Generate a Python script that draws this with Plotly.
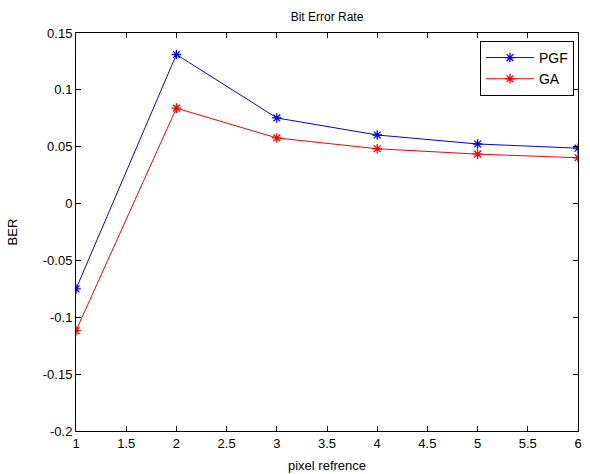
import plotly.graph_objects as go

# pixel reference positions
pixel_ref = [1, 2, 3, 4, 5, 6]

# bit error rate per method
ber_pgf = [-0.0751, 0.1311, 0.0753, 0.0603, 0.0524, 0.0487]
ber_ga = [-0.1118, 0.0839, 0.0577, 0.0482, 0.0435, 0.0403]

# axis ticks
x_ticks = [1, 1.5, 2, 2.5, 3, 3.5, 4, 4.5, 5, 5.5, 6]
x_tick_labels = ["1", "1.5", "2", "2.5", "3", "3.5", "4", "4.5", "5", "5.5", "6"]
y_ticks = [-0.2, -0.15, -0.1, -0.05, 0, 0.05, 0.1, 0.15]
y_tick_labels = ["-0.2", "-0.15", "-0.1", "-0.05", "0", "0.05", "0.1", "0.15"]

FONT = "Liberation Sans, Arial, sans-serif"

fig = go.Figure()
fig.add_trace(go.Scatter(
    x=pixel_ref, y=ber_pgf, name="PGF", mode="lines+markers",
    line=dict(color="#0000ff", width=1),
    marker=dict(symbol="asterisk-open", size=8, color="#0000ff",
                line=dict(color="#0000ff", width=1.3)),
))
fig.add_trace(go.Scatter(
    x=pixel_ref, y=ber_ga, name="GA", mode="lines+markers",
    line=dict(color="#ff0000", width=1),
    marker=dict(symbol="asterisk-open", size=8, color="#ff0000",
                line=dict(color="#ff0000", width=1.3)),
))

axis_common = dict(
    showgrid=False, zeroline=False, showline=True, linecolor="black",
    linewidth=1, mirror="ticks", ticks="inside", ticklen=5,
    tickcolor="black", tickfont=dict(family=FONT, size=13, color="black"),
    automargin=False,
)

fig.update_layout(
    width=590, height=474,
    margin=dict(l=76, r=12, t=33, b=43),
    paper_bgcolor="white", plot_bgcolor="white",
    title=dict(text="Bit Error Rate", x=0.5 * (76 + 578) / 590, xanchor="center",
               y=1 - 17 / 474, yanchor="middle",
               font=dict(family=FONT, size=12, color="black")),
    xaxis=dict(range=[1, 6], tickvals=x_ticks, ticktext=x_tick_labels,
               title=dict(text="pixel refrence", standoff=11,
                          font=dict(family=FONT, size=13, color="black")),
               **axis_common),
    yaxis=dict(range=[-0.2, 0.15], tickvals=y_ticks, ticktext=y_tick_labels,
               title=dict(text="BER", standoff=22,
                          font=dict(family=FONT, size=13, color="black")),
               **axis_common),
    legend=dict(x=0.992, y=0.98, xanchor="right", yanchor="top",
                bgcolor="white", bordercolor="black", borderwidth=1,
                font=dict(family=FONT, size=14, color="black"),
                tracegroupgap=0, itemwidth=48),
    showlegend=True,
)

fig.write_html("out.html")
